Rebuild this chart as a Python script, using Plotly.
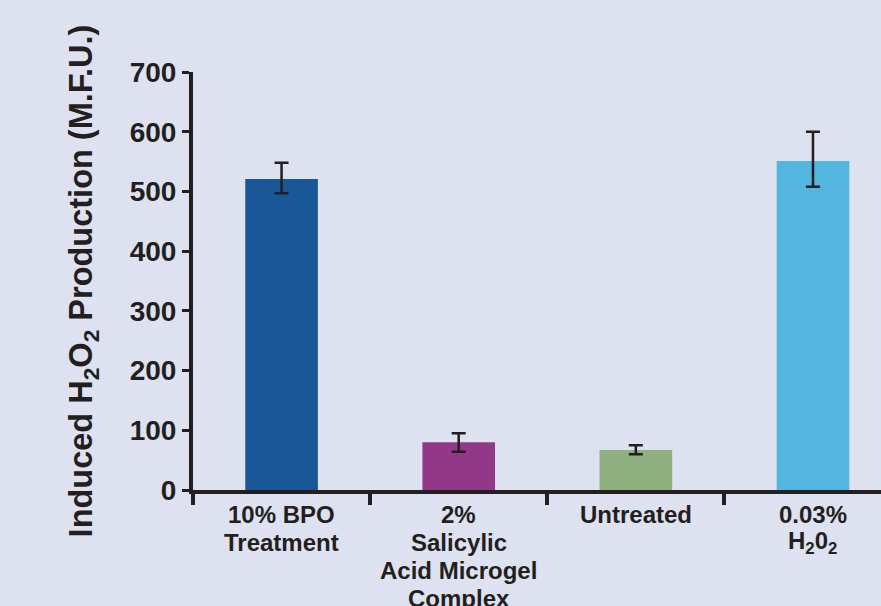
import plotly.graph_objects as go

# Treatment groups and measured H2O2 production (mean fluorescence units)
categories = [
    "10% BPO<br>Treatment",
    "2%<br>Salicylic<br>Acid Microgel<br>Complex",
    "Untreated",
    "0.03%<br>H<sub>2</sub>0<sub>2</sub>",
]
values = [521, 80, 67, 551]
err_plus = [27, 15, 8, 49]
err_minus = [24, 16, 7, 43]
bar_colors = ["#1A5799", "#933888", "#8DB07E", "#52B6DE"]
y_ticks = [0, 100, 200, 300, 400, 500, 600, 700]

ink = "#231F20"
bg = "#DEE1EF"
font_family = "Liberation Sans, Arial, sans-serif"

x_pos = list(range(len(categories)))

fig = go.Figure(
    go.Bar(
        x=x_pos,
        y=values,
        width=0.41,
        marker=dict(color=bar_colors, line=dict(width=0)),
        error_y=dict(
            type="data",
            symmetric=False,
            array=err_plus,
            arrayminus=err_minus,
            color=ink,
            thickness=2.5,
            width=7,
        ),
    )
)

# Category labels, one annotation per line for tight line spacing
annotations = []
for xi, label in zip(x_pos, categories):
    for li, line in enumerate(label.split("<br>")):
        annotations.append(
            dict(
                x=xi,
                y=0,
                xref="x",
                yref="y",
                text=line,
                showarrow=False,
                xanchor="center",
                yanchor="middle",
                yshift=-(24 + 28 * li),
                font=dict(family=font_family, size=24, color=ink, weight="bold"),
            )
        )

fig.update_layout(
    width=881,
    height=606,
    paper_bgcolor=bg,
    plot_bgcolor=bg,
    margin=dict(l=193, r=0, t=72, b=116),
    showlegend=False,
    annotations=annotations,
    font=dict(family=font_family, color=ink),
)

fig.update_xaxes(
    range=[-0.5, 3.384],
    tickvals=[-0.5, 0.5, 1.5, 2.5, 3.5],
    showticklabels=False,
    ticks="outside",
    ticklen=11,
    tickwidth=3.5,
    tickcolor=ink,
    showline=True,
    linewidth=4,
    linecolor=ink,
    showgrid=False,
    zeroline=False,
)

fig.update_yaxes(
    range=[0, 700],
    tickvals=y_ticks,
    ticks="outside",
    ticklen=7,
    tickwidth=3,
    tickcolor=ink,
    tickfont=dict(family=font_family, size=28, color=ink, weight="bold"),
    showline=True,
    linewidth=4,
    linecolor=ink,
    showgrid=False,
    zeroline=False,
    title=dict(
        text="<b>Induced H<sub>2</sub>O<sub>2</sub> Production (M.F.U.)</b>",
        font=dict(family=font_family, size=32.5, color=ink),
        standoff=28,
    ),
)

fig.write_html("out.html")
